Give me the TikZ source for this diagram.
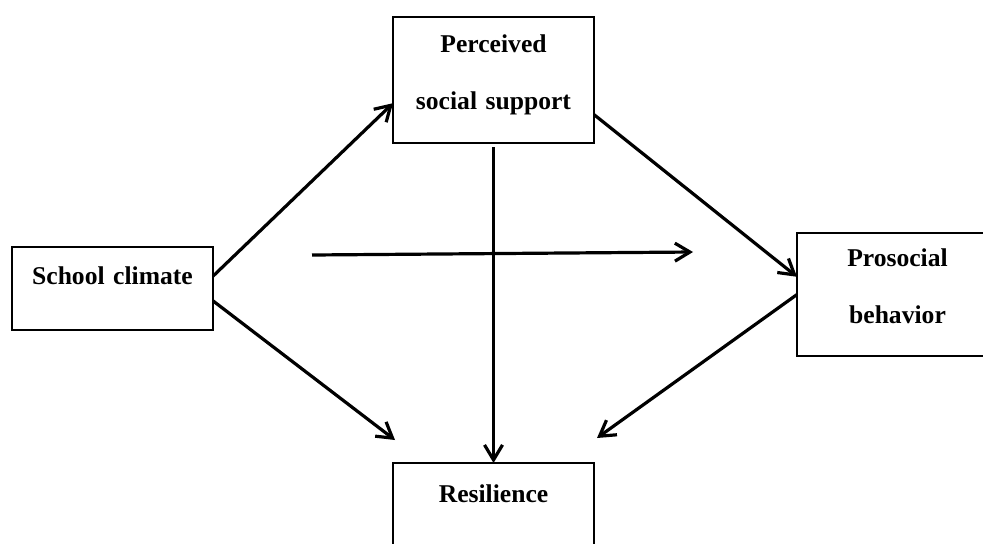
\documentclass[tikz,border=0pt]{standalone}
\usepackage{fontspec}
\setmainfont{Liberation Serif}
\usetikzlibrary{arrows.meta}

\begin{document}
\begin{tikzpicture}[x=0.5pt,y=0.5pt]
\useasboundingbox (0,0) rectangle (983,543);
\tikzstyle{v}=[rectangle,draw,line width=1.3pt,inner xsep=3pt,outer sep=0pt,text width=90pt,align=center,above right,minimum width=100.5pt,font=\bfseries\fontsize{12.8}{28.5}\selectfont,text height=9pt]
\tikzstyle{one}=[v,text depth=13.5pt]
\tikzstyle{two}=[v,text depth=37pt]
\tikzstyle{arr}=[line width=1.6pt,-{Straight Barb[length=7.5pt,width=9pt]}]

\node[two,minimum height=63pt] (pss) at (393,400) {Perceived\\social support};
\node[one,minimum height=41.5pt] (sc) at (12,213) {School climate};
\node[two,minimum height=61.5pt] (pb) at (797,187) {Prosocial\\behavior};
\node[one,minimum height=43.5pt] (res) at (393,-7) {Resilience};

\coordinate (resL) at (395,103);
\coordinate (resR) at (597,105);
\coordinate (hL) at (312,288);
\coordinate (hR) at (693,291);

\path (sc.7) edge[arr] (pss.193);
\path (sc.-7) edge[arr] (resL);
\path (pss.-19) edge[arr] (pb.170);
\path (pb.west) edge[arr] (resR);
\path (pss.south) edge[arr,shorten <=2pt] (res.north);
\path (hL) edge[arr] (hR);
\end{tikzpicture}
\end{document}
